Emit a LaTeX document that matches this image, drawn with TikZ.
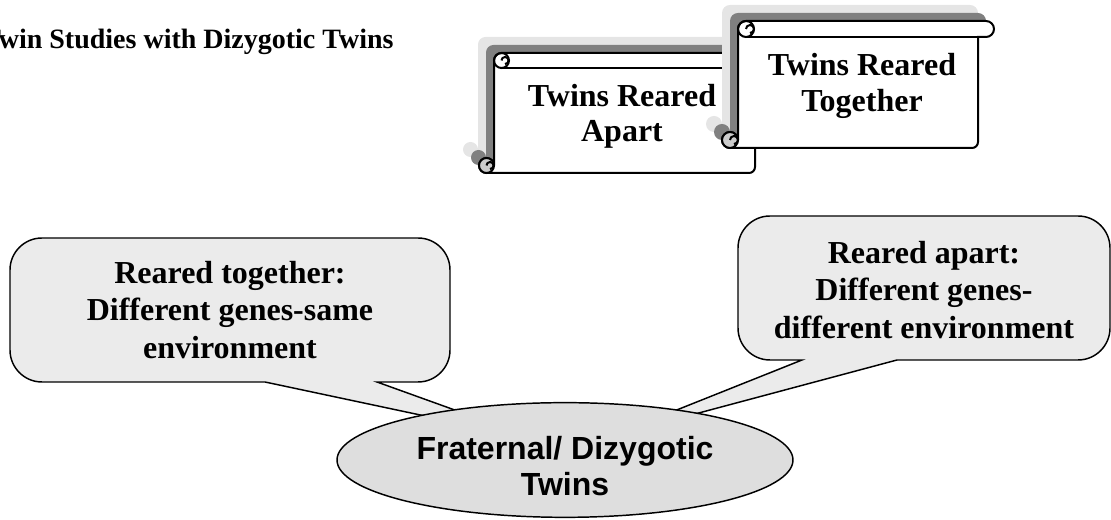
\documentclass[tikz,border=0pt]{standalone}
\usepackage{fontspec}
\setmainfont{Liberation Serif}
\setsansfont{Liberation Sans}
\usepackage{tikz}
\usetikzlibrary{shapes.geometric, positioning, calc}

% outline of a horizontal scroll: left, right, top, bottom, roll
\newcommand{\scrolloutline}[5]{%
    ({#1}, {#3-#5/2}) arc[start angle=180, end angle=90, radius=#5/2]
    -- ({#2+#5/2}, {#3}) arc[start angle=90, end angle=-90, radius=#5/2]
    -- ({#2}, {#3-#5}) -- ({#2}, {#4+6}) arc[start angle=0, end angle=-90, radius=6]
    -- ({#1-#5/2}, {#4}) arc[start angle=270, end angle=0, radius=#5/2]
    -- cycle}

\tikzset{
    bubble/.style={
        draw=black,
        line width=1.1pt,
        fill=black!8
    },
    bubbletext/.style={
        align=center,
        font=\fontsize{24}{28}\selectfont\bfseries
    },
    scrolltext/.style={
        align=center,
        font=\fontsize{24}{26.5}\selectfont\bfseries
    },
    scrollbody/.style={
        draw=black,
        line width=1.5pt,
        fill=white
    },
    scrollline/.style={
        draw=black,
        line width=1.5pt
    },
    shadedark/.style={
        fill=black!50
    },
    shadelight/.style={
        fill=black!10
    },
    twinsnode/.style={
        ellipse,
        draw=black,
        line width=1.1pt,
        fill=black!13,
        minimum width=342pt,
        minimum height=86pt,
        inner sep=0pt
    },
    twinstext/.style={
        align=center,
        font=\fontsize{24}{27.5}\selectfont\sffamily\bfseries
    },
}

\begin{document}
\begin{tikzpicture}[x=0.75pt, y=0.75pt]
\useasboundingbox (0,0) rectangle (1111,520);

% Title
\node[anchor=base west, inner sep=0pt, font=\fontsize{21}{23}\selectfont\bfseries] (title) at (-18,471) {Twin Studies with Dizygotic Twins};

% Scroll: reared apart
\fill[shadelight, shift={(-16,16)}] \scrolloutline{494}{755}{467}{347}{15};
\fill[shadedark, shift={(-8,8)}] \scrolloutline{494}{755}{467}{347}{15};
\draw[scrollbody] \scrolloutline{494}{755}{467}{347}{15};
\draw[scrollline] (501.5,452) -- (762.5,452);
\draw[scrollline] (501.5,459.5) circle[radius=7.5];
\draw[scrollline] (501.5,459.5) arc[start angle=180, end angle=-90, radius=3.5];
\draw[scrollline, fill=black!20] (486.5,354.5) circle[radius=7.5];
\draw[scrollline] (486.5,354.5) arc[start angle=180, end angle=-90, radius=3.5];
\node[scrolltext] (apart) at (622,404) {Twins Reared\\Apart};

% Scroll: reared together
\fill[shadelight, shift={(-16,16)}] \scrolloutline{738}{978}{499}{372}{16};
\fill[shadedark, shift={(-8,8)}] \scrolloutline{738}{978}{499}{372}{16};
\draw[scrollbody] \scrolloutline{738}{978}{499}{372}{16};
\draw[scrollline] (746,483) -- (986,483);
\draw[scrollline] (746,491) circle[radius=8];
\draw[scrollline] (746,491) arc[start angle=180, end angle=-90, radius=4];
\draw[scrollline, fill=black!20] (730,380) circle[radius=8];
\draw[scrollline] (730,380) arc[start angle=180, end angle=-90, radius=4];
\node[scrolltext] (together) at (862,434) {Twins Reared\\Together};

% Pointer tips (under the ellipse)
\coordinate (tipsame) at (538,80);
\coordinate (tipdiff) at (609,83);

% Bubble: reared together
\draw[bubble] (377,138) [rounded corners=24] -- (450,138) -- (450,282) -- (10,282) -- (10,138) [sharp corners] -- (265,138) -- (tipsame) -- cycle;
\node[bubbletext] (same) at (230,210) {Reared together:\\Different genes-same\\environment};

% Bubble: reared apart
\draw[bubble] (897,160) [rounded corners=24] -- (1110,160) -- (1110,304) -- (738,304) -- (738,160) [sharp corners] -- (802,160) -- (tipdiff) -- cycle;
\node[bubbletext] (diff) at (924,230) {Reared apart:\\Different genes-\\different environment};

% Fraternal twins
\node[twinsnode] (twins) at (565,60) {};
\node[twinstext] (twinslabel) at (565,54) {Fraternal/ Dizygotic\\Twins};

\end{tikzpicture}
\end{document}
